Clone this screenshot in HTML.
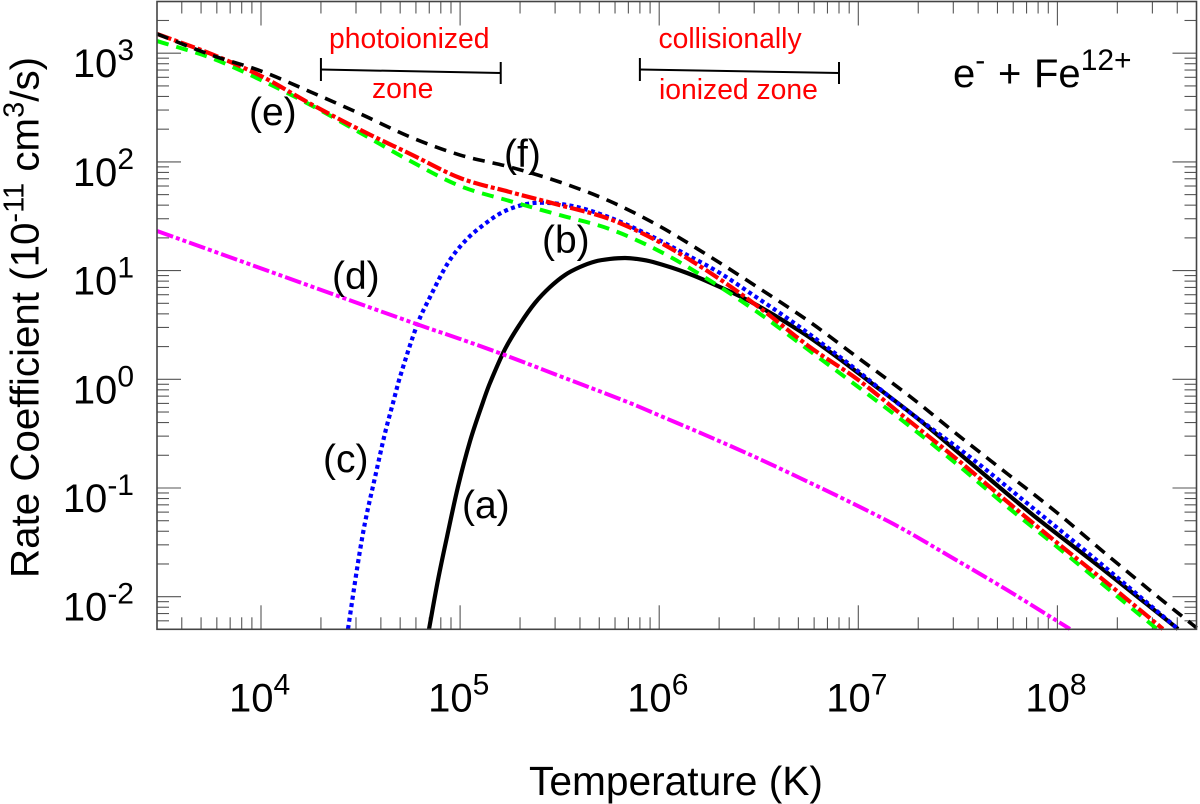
<!DOCTYPE html>
<html lang="en">
<head>
<meta charset="utf-8">
<title>Rate coefficient chart</title>
<style>
html,body{margin:0;padding:0;background:#fff;}
svg{display:block;}
text{font-family:"Liberation Sans",Arial,sans-serif;fill:#000;}
.red{fill:#f00;font-size:28.3px;}
.lab{font-size:39px;}
</style>
</head>
<body>
<svg id="chart" xmlns="http://www.w3.org/2000/svg" width="1200" height="804" viewBox="0 0 1200 804">
  <rect width="1200" height="804" fill="#fff"/>
  <g id="ticks"></g>
  <g id="ticklabels"></g>
  <g id="series"></g>
  <rect x="157" y="1.5" width="1039.5" height="627.8" fill="none" stroke="#444" stroke-width="1.6"/>
  <text x="529" y="795" font-size="40.7">Temperature (K)</text>
  <text transform="translate(38.5,578) rotate(-90)" font-size="40.3">Rate Coefficient (10<tspan font-size="29" dy="-15">-11</tspan><tspan dy="15"> cm</tspan><tspan font-size="29" dy="-15">3</tspan><tspan dy="15">/s)</tspan></text>

  <g id="zones"></g>
  <text class="red" x="329" y="48">photoionized</text>
  <text class="red" x="372" y="98">zone</text>
  <text class="red" x="658.5" y="48">collisionally</text>
  <text class="red" x="659" y="99">ionized zone</text>

  <text x="953" y="87" font-size="40">e<tspan font-size="30" dy="-17">-</tspan><tspan x="998" dy="17">+</tspan><tspan x="1034">Fe</tspan><tspan font-size="30" dy="-17">12+</tspan></text>

  <text class="lab" x="462" y="518">(a)</text>
  <text class="lab" x="542" y="253">(b)</text>
  <text class="lab" x="323" y="472">(c)</text>
  <text class="lab" x="332" y="289">(d)</text>
  <text class="lab" x="249" y="125">(e)</text>
  <text class="lab" x="504" y="167">(f)</text>
</svg>
<script>
// All values are log10(T [K]) and log10(rate [1e-11 cm3/s]).
const sharedLogT = [3.478,3.75,4,4.25,4.5,4.75,5,5.25,5.5,5.75,6,6.25,6.5,6.75,7,7.25,7.5,7.75,8,8.25,8.5];

const curveALogT = [4.844,4.889,4.934,4.989,5.05,5.115,5.15,5.226,5.301,5.376,5.452,5.527,5.602,5.678,5.753,5.828,5.888,5.969,6.14,6.305,6.471,6.722,6.893,7.059,7.295,7.546,7.877,8.214,8.606];
const curveALogRate = [-2.297,-1.846,-1.451,-0.991,-0.568,-0.209,-0.034,0.279,0.509,0.702,0.849,0.96,1.033,1.084,1.107,1.116,1.107,1.079,0.978,0.849,0.702,0.426,0.205,-0.025,-0.356,-0.742,-1.248,-1.727,-2.297];

const curveBLogT = sharedLogT;
const curveBLogRate = [3.112,2.956,2.753,2.523,2.266,2.008,1.778,1.64,1.511,1.383,1.18,0.914,0.61,0.27,-0.071,-0.42,-0.788,-1.175,-1.543,-1.92,-2.297];

const curveCLogT = [4.437,4.487,4.522,4.573,4.623,4.663,4.698,4.784,4.849,4.939,5.025,5.11,5.215,5.336,5.452,5.587,5.718,5.818,5.969,6.14,6.305,6.471,6.642,6.808,6.973,7.209,7.561,7.877,8.214,8.606];
const curveCLogRate = [-2.297,-1.69,-1.322,-0.899,-0.494,-0.218,0.021,0.5,0.757,1.07,1.272,1.41,1.539,1.613,1.622,1.585,1.511,1.438,1.309,1.144,0.978,0.776,0.564,0.343,0.113,-0.236,-0.715,-1.184,-1.69,-2.297];

const curveDLogT = [3.478,4.784,5,5.21,5.5,5.853,6.019,6.208,6.459,6.707,6.958,7.209,7.461,7.747,8.063];
const curveDLogRate = [1.364,0.506,0.371,0.233,0.03,-0.218,-0.347,-0.494,-0.696,-0.908,-1.129,-1.363,-1.63,-1.938,-2.297];

const curveELogT = sharedLogT.concat([8.53]);
const curveELogRate = [3.177,2.993,2.79,2.533,2.293,2.073,1.852,1.723,1.603,1.475,1.263,0.987,0.665,0.306,-0.006,-0.374,-0.742,-1.129,-1.506,-1.874,-2.251,-2.297];

const curveFLogT = sharedLogT.concat([8.7]);
const curveFLogRate = [3.177,2.983,2.836,2.643,2.441,2.229,2.063,1.953,1.815,1.64,1.41,1.134,0.84,0.536,0.196,-0.144,-0.512,-0.871,-1.23,-1.616,-1.994,-2.288];

const xDecades = [4,5,6,7,8];
const yDecades = [-2,-1,0,1,2,3];
const xTickLabels = ['4','5','6','7','8'];
const yTickLabels = ['-2','-1','0','1','2','3'];
const minorMultiples = [2,3,4,5,6,7,8,9];
const zoneLogT = [[4.301,5.204],[5.903,6.903]];

const SVGNS = 'http://www.w3.org/2000/svg';
const FRAME = {left:157, right:1196.5, top:1.5, bottom:629.3};
function xScale(logT){ return 261 + (logT - 4) * 199.1; }
function yScale(logRate){ return 379.3 - logRate * 108.7; }

function make(tag, attrs, parent){
  const el = document.createElementNS(SVGNS, tag);
  for (const k in attrs) el.setAttribute(k, attrs[k]);
  parent.appendChild(el);
  return el;
}

function smoothPath(ts, rs){
  const px = ts.map(xScale), py = rs.map(yScale), n = px.length;
  const slope = [];
  for (let i = 0; i < n; i++){
    const a = Math.max(i - 1, 0), b = Math.min(i + 1, n - 1);
    slope.push((py[b] - py[a]) / (px[b] - px[a]));
  }
  let d = 'M' + px[0].toFixed(2) + ' ' + py[0].toFixed(2);
  for (let i = 0; i < n - 1; i++){
    const h = (px[i + 1] - px[i]) / 3;
    d += 'C' + (px[i] + h).toFixed(2) + ' ' + (py[i] + slope[i] * h).toFixed(2) + ' ' +
         (px[i + 1] - h).toFixed(2) + ' ' + (py[i + 1] - slope[i + 1] * h).toFixed(2) + ' ' +
         px[i + 1].toFixed(2) + ' ' + py[i + 1].toFixed(2);
  }
  return d;
}

function drawCurve(name, ts, rs, color, width, dash){
  const p = make('path', {d: smoothPath(ts, rs), fill: 'none', stroke: color, 'stroke-width': width}, document.getElementById('series'));
  if (dash) p.setAttribute('stroke-dasharray', dash);
  
  
}

drawCurve('curve-a-solid', curveALogT, curveALogRate, '#000', 4.2, null);
drawCurve('curve-c-dotted', curveCLogT, curveCLogRate, '#00f', 4.2, '4 3.4');
drawCurve('curve-d-dash-dot-dot', curveDLogT, curveDLogRate, '#f0f', 4, '17 3 4 3 4 3');
drawCurve('curve-b-dashed', curveBLogT, curveBLogRate, '#0f0', 4, '12 8');
drawCurve('curve-e-dash-dot', curveELogT, curveELogRate, '#f00', 4.2, '15 3 4 3');
drawCurve('curve-f-dashed', curveFLogT, curveFLogRate, '#000', 3.6, '12 8');

const tickGroup = document.getElementById('ticks');
function tickLine(x1, y1, x2, y2, name){
  const l = make('line', {x1: x1, y1: y1, x2: x2, y2: y2, stroke: '#555', 'stroke-width': 1.1}, tickGroup);
  
  
}
const MAJOR = 24, MINOR = 12;
function xTick(logT, len){
  const x = xScale(logT);
  if (x < FRAME.left || x > FRAME.right) return;
  tickLine(x, FRAME.bottom, x, FRAME.bottom - len, 'x-tick-bottom');
  tickLine(x, FRAME.top, x, FRAME.top + len, 'x-tick-top');
}
function yTick(logR, len){
  const y = yScale(logR);
  if (y < FRAME.top || y > FRAME.bottom) return;
  tickLine(FRAME.left, y, FRAME.left + len, y, 'y-tick-left');
  tickLine(FRAME.right, y, FRAME.right - len, y, 'y-tick-right');
}
[3].concat(xDecades).forEach(function(d){
  if (xDecades.indexOf(d) >= 0) xTick(d, MAJOR);
  minorMultiples.forEach(function(m){ xTick(d + Math.log10(m), MINOR); });
});
[-3].concat(yDecades).forEach(function(d){
  if (yDecades.indexOf(d) >= 0) yTick(d, MAJOR);
  minorMultiples.forEach(function(m){ yTick(d + Math.log10(m), MINOR); });
});

const labelGroup = document.getElementById('ticklabels');
function powerLabel(parent, x, y, anchor, exp, name){
  const t = make('text', {x: x, y: y, 'text-anchor': anchor, 'font-size': 40}, parent);
  
  
  make('tspan', {}, t).textContent = '10';
  make('tspan', {'font-size': 30, dy: -17}, t).textContent = exp;
}
xDecades.forEach(function(d, i){
  powerLabel(labelGroup, xScale(d) - 32, 711.5, 'start', xTickLabels[i], 'x-tick-label');
});
yDecades.forEach(function(d, i){
  powerLabel(labelGroup, 134, yScale(d) + 24, 'end', yTickLabels[i], 'y-tick-label');
});

const zoneGroup = document.getElementById('zones');
zoneLogT.forEach(function(z){
  const a = xScale(z[0]), b = xScale(z[1]);
  const line = make('line', {x1: a, y1: 69.5, x2: b, y2: 73, stroke: '#000', 'stroke-width': 2}, zoneGroup);
  
  
  const capL = make('line', {x1: a, y1: 58, x2: a, y2: 81, stroke: '#000', 'stroke-width': 2}, zoneGroup);
  
  
  const capR = make('line', {x1: b, y1: 62, x2: b, y2: 84, stroke: '#000', 'stroke-width': 2}, zoneGroup);
  
  
});
</script>
</body>
</html>
